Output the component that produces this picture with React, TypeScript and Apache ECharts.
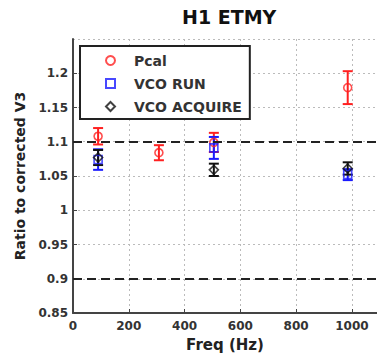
import React, { useEffect, useRef } from "react";
import * as echarts from "echarts";

const title = "H1 ETMY";
const xName = "Freq (Hz)";
const yName = "Ratio to corrected V3";

const pcalFreq = [90, 308, 505, 985];
const pcalValue = [1.108, 1.084, 1.099, 1.179];
const pcalErr = [0.012, 0.011, 0.014, 0.024];

const runFreq = [90, 505, 985];
const runValue = [1.074, 1.091, 1.052];
const runErr = [0.015, 0.016, 0.008];

const acqFreq = [90, 505, 985];
const acqValue = [1.077, 1.059, 1.061];
const acqErr = [0.011, 0.009, 0.009];

const refLines = [1.1, 0.9];

const FONT = "DejaVu Sans";
const RED = "#ff2020";
const BLUE = "#1a1aff";
const BLACK = "#111111";

function errData(f: number[], v: number[], e: number[]) {
  return f.map((x, i) => [x, v[i] - e[i], v[i] + e[i]]);
}
function ptData(f: number[], v: number[]) {
  return f.map((x, i) => [x, v[i]]);
}

function errSeries(name: string, data: number[][], color: string) {
  return {
    type: "custom",
    name: name + "-err",
    data,
    z: 3,
    silent: true,
    renderItem: (params: any, api: any) => {
      const x = api.value(0);
      const lo = api.value(1);
      const hi = api.value(2);
      const p1 = api.coord([x, hi]);
      const p2 = api.coord([x, lo]);
      const w = 5;
      const style = { stroke: color, lineWidth: 2 };
      return {
        type: "group",
        children: [
          { type: "line", shape: { x1: p1[0], y1: p1[1], x2: p2[0], y2: p2[1] }, style },
          { type: "line", shape: { x1: p1[0] - w, y1: p1[1], x2: p1[0] + w, y2: p1[1] }, style },
          { type: "line", shape: { x1: p2[0] - w, y1: p2[1], x2: p2[0] + w, y2: p2[1] }, style },
        ],
      };
    },
  };
}

export default function App() {
  const ref = useRef<HTMLDivElement>(null);
  useEffect(() => {
    const chart = echarts.init(ref.current!, null, { renderer: "svg" });
    const axisLabel = { fontFamily: FONT, fontWeight: "bold", fontSize: 12, color: "#333" };
    chart.setOption({
      animation: false,
      backgroundColor: "#fff",
      title: {
        text: title,
        left: 177,
        top: 2,
        textStyle: { fontFamily: FONT, fontWeight: "bold", fontSize: 19, color: "#111" },
      },
      grid: { left: 73, right: 0, top: 39, bottom: 44, containLabel: false },
      legend: {
        orient: "vertical",
        left: 80,
        top: 46,
        borderColor: "#222",
        borderWidth: 2,
        padding: [7, 8, 5, 25],
        itemWidth: 9,
        itemHeight: 9,
        itemGap: 8,
        backgroundColor: "#fff",
        data: [
          { name: "Pcal", icon: "emptyCircle", itemStyle: { color: RED, borderColor: RED, borderWidth: 1.5 } },
          { name: "VCO RUN", icon: "emptyRect", itemStyle: { color: BLUE, borderColor: BLUE, borderWidth: 1.5 } },
          { name: "VCO ACQUIRE", icon: "emptyDiamond", itemStyle: { color: BLACK, borderColor: BLACK, borderWidth: 1.5 } },
        ],
        textStyle: {
          fontFamily: FONT,
          fontWeight: "bold",
          fontSize: 14,
          lineHeight: 15,
          color: "#333",
          padding: [0, 0, 0, 14],
        },
      },
      xAxis: {
        type: "value",
        min: 0,
        max: 1090,
        interval: 200,
        name: xName,
        nameLocation: "middle",
        nameGap: 24,
        nameTextStyle: { fontFamily: FONT, fontWeight: "bold", fontSize: 15, color: "#222" },
        axisLine: { lineStyle: { color: "#444", width: 2 } },
        axisTick: { inside: true, length: 4, lineStyle: { color: "#444" } },
        axisLabel: { ...axisLabel, margin: 7, showMaxLabel: false, formatter: (v: number) => String(v) },
        splitLine: { show: true, lineStyle: { color: "#bbb", type: [2, 3], width: 1 } },
      },
      yAxis: {
        type: "value",
        min: 0.85,
        max: 1.25,
        interval: 0.05,
        name: yName,
        nameLocation: "middle",
        nameGap: 45,
        nameTextStyle: { fontFamily: FONT, fontWeight: "bold", fontSize: 14, color: "#222" },
        axisLine: { show: true, lineStyle: { color: "#444", width: 2 } },
        axisTick: { show: true, inside: true, length: 4, lineStyle: { color: "#444" } },
        axisLabel: {
          ...axisLabel,
          margin: 5,
          showMaxLabel: false,
          formatter: (v: number) => String(Math.round(v * 100) / 100),
        },
        splitLine: { show: true, lineStyle: { color: "#bbb", type: [2, 3], width: 1 } },
      },
      series: [
        errSeries("Pcal", errData(pcalFreq, pcalValue, pcalErr), RED),
        {
          type: "scatter",
          name: "Pcal",
          data: ptData(pcalFreq, pcalValue),
          symbol: "circle",
          symbolSize: 8,
          z: 4,
          itemStyle: { color: "rgba(255,255,255,0)", borderColor: RED, borderWidth: 1.6 },
          markLine: {
            silent: true,
            symbol: "none",
            label: { show: false },
            lineStyle: { color: "#222", type: [9, 5], width: 2 },
            data: refLines.map((v) => ({ yAxis: v })),
          },
        },
        errSeries("VCO RUN", errData(runFreq, runValue, runErr), BLUE),
        {
          type: "scatter",
          name: "VCO RUN",
          data: ptData(runFreq, runValue),
          symbol: "rect",
          symbolSize: 8,
          z: 4,
          itemStyle: { color: "rgba(255,255,255,0)", borderColor: BLUE, borderWidth: 1.6 },
        },
        errSeries("VCO ACQUIRE", errData(acqFreq, acqValue, acqErr), BLACK),
        {
          type: "scatter",
          name: "VCO ACQUIRE",
          data: ptData(acqFreq, acqValue),
          symbol: "diamond",
          symbolSize: 9,
          z: 4,
          itemStyle: { color: "rgba(255,255,255,0)", borderColor: BLACK, borderWidth: 1.6 },
        },
      ],
    });
    return () => chart.dispose();
  }, []);
  return (
    <div
      ref={ref}
      style={{ position: "fixed", left: 0, top: 0, width: 377, height: 357 }}
    />
  );
}
